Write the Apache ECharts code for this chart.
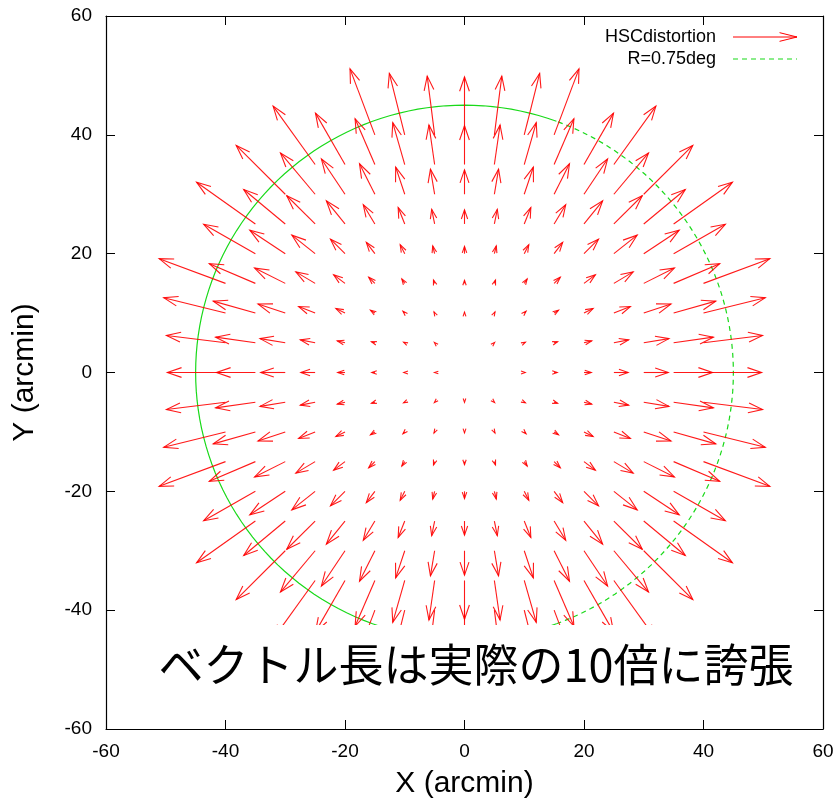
<!DOCTYPE html>
<html><head><meta charset="utf-8">
<script src="https://cdn.jsdelivr.net/npm/echarts@6/dist/echarts.min.js"></script>
<style>html,body{margin:0;padding:0;background:#fff}#c{width:838px;height:799px}</style>
</head><body><div id="c"></div><script>
const _ = null;
// grid positions of the vector tails (arcmin)
const gridX = [-40,-35,-30,-25,-20,-15,-10,-5,0,5,10,15,20,25,30,35,40];
const gridY = [40,35,30,25,20,15,10,5,0,-5,-10,-15,-20,-25,-30,-35,-40];
// vector components (arcmin, already magnified x10), rows follow gridY, columns follow gridX
const dX = [
 [_,_,_,_,_,-4.16,-2.58,-1.24,0,1.24,2.58,4.16,_,_,_,_,_],
 [_,_,_,-7.03,-4.94,-3.31,-2.01,-0.95,0,0.95,2.01,3.31,4.94,7.03,_,_,_],
 [_,_,-8.21,-5.80,-3.95,-2.57,-1.52,-0.70,0,0.70,1.52,2.57,3.95,5.80,8.21,_,_],
 [_,-9.84,-6.95,-4.75,-3.12,-1.94,-1.10,-0.49,0,0.49,1.10,1.94,3.12,4.75,6.95,9.84,_],
 [_,-8.65,-5.93,-3.90,-2.43,-1.43,-0.76,-0.32,0,0.32,0.76,1.43,2.43,3.90,5.93,8.65,_],
 [-11.10,-7.71,-5.13,-3.23,-1.90,-1.03,-0.49,-0.19,0,0.19,0.49,1.03,1.90,3.23,5.13,7.71,11.10],
 [-10.34,-7.05,-4.56,-2.76,-1.52,-0.74,-0.30,-0.10,0,0.10,0.30,0.74,1.52,2.76,4.56,7.05,10.34],
 [-9.88,-6.65,-4.22,-2.47,-1.29,-0.57,-0.19,-0.04,_,0.04,0.19,0.57,1.29,2.47,4.22,6.65,9.88],
 [-9.73,-6.52,-4.10,-2.38,-1.22,-0.51,-0.15,-0.02,_,_,0.15,0.51,1.22,2.38,4.10,6.52,9.73],
 [-9.88,-6.65,-4.22,-2.47,-1.29,-0.57,-0.19,-0.04,0,0.04,0.19,0.57,1.29,2.47,4.22,6.65,9.88],
 [-10.34,-7.05,-4.56,-2.76,-1.52,-0.74,-0.30,-0.10,0,0.10,0.30,0.74,1.52,2.76,4.56,7.05,10.34],
 [-11.10,-7.71,-5.13,-3.23,-1.90,-1.03,-0.49,-0.19,0,0.19,0.49,1.03,1.90,3.23,5.13,7.71,11.10],
 [_,-8.65,-5.93,-3.90,-2.43,-1.43,-0.76,-0.32,0,0.32,0.76,1.43,2.43,3.90,5.93,8.65,_],
 [_,-9.84,-6.95,-4.75,-3.12,-1.94,-1.10,-0.49,0,0.49,1.10,1.94,3.12,4.75,6.95,9.84,_],
 [_,_,-8.21,-5.80,-3.95,-2.57,-1.52,-0.70,0,0.70,1.52,2.57,3.95,5.80,8.21,_,_],
 [_,_,_,-7.03,-4.94,-3.31,-2.01,-0.95,0,0.95,2.01,3.31,4.94,7.03,_,_,_],
 [_,_,_,_,_,-4.16,-2.58,-1.24,0,1.24,2.58,4.16,_,_,_,_,_]
];
const dY = [
 [_,_,_,_,_,11.10,10.34,9.88,9.73,9.88,10.34,11.10,_,_,_,_,_],
 [_,_,_,9.84,8.65,7.71,7.05,6.65,6.52,6.65,7.05,7.71,8.65,9.84,_,_,_],
 [_,_,8.21,6.95,5.93,5.13,4.56,4.22,4.10,4.22,4.56,5.13,5.93,6.95,8.21,_,_],
 [_,7.03,5.80,4.75,3.90,3.23,2.76,2.47,2.38,2.47,2.76,3.23,3.90,4.75,5.80,7.03,_],
 [_,4.94,3.95,3.12,2.43,1.90,1.52,1.29,1.22,1.29,1.52,1.90,2.43,3.12,3.95,4.94,_],
 [4.16,3.31,2.57,1.94,1.43,1.03,0.74,0.57,0.51,0.57,0.74,1.03,1.43,1.94,2.57,3.31,4.16],
 [2.58,2.01,1.52,1.10,0.76,0.49,0.30,0.19,0.15,0.19,0.30,0.49,0.76,1.10,1.52,2.01,2.58],
 [1.24,0.95,0.70,0.49,0.32,0.19,0.10,0.04,_,0.04,0.10,0.19,0.32,0.49,0.70,0.95,1.24],
 [0,0,0,0,0,0,0,0,_,_,0,0,0,0,0,0,0],
 [-1.24,-0.95,-0.70,-0.49,-0.32,-0.19,-0.10,-0.04,-0.02,-0.04,-0.10,-0.19,-0.32,-0.49,-0.70,-0.95,-1.24],
 [-2.58,-2.01,-1.52,-1.10,-0.76,-0.49,-0.30,-0.19,-0.15,-0.19,-0.30,-0.49,-0.76,-1.10,-1.52,-2.01,-2.58],
 [-4.16,-3.31,-2.57,-1.94,-1.43,-1.03,-0.74,-0.57,-0.51,-0.57,-0.74,-1.03,-1.43,-1.94,-2.57,-3.31,-4.16],
 [_,-4.94,-3.95,-3.12,-2.43,-1.90,-1.52,-1.29,-1.22,-1.29,-1.52,-1.90,-2.43,-3.12,-3.95,-4.94,_],
 [_,-7.03,-5.80,-4.75,-3.90,-3.23,-2.76,-2.47,-2.38,-2.47,-2.76,-3.23,-3.90,-4.75,-5.80,-7.03,_],
 [_,_,-8.21,-6.95,-5.93,-5.13,-4.56,-4.22,-4.10,-4.22,-4.56,-5.13,-5.93,-6.95,-8.21,_,_],
 [_,_,_,-9.84,-8.65,-7.71,-7.05,-6.65,-6.52,-6.65,-7.05,-7.71,-8.65,-9.84,_,_,_],
 [_,_,_,_,_,-11.10,-10.34,-9.88,-9.73,-9.88,-10.34,-11.10,_,_,_,_,_]
];
const axisMin = -60, axisMax = 60, axisStep = 20;
const circleRadius = 45; // R = 0.75 deg
const legendNames = ['HSCdistortion', 'R=0.75deg'];
const xName = 'X (arcmin)', yName = 'Y (arcmin)';
const noteText = 'ベクトル長は実際の10倍に誇張';

const RED = '#ff0000', GREEN = '#19d919';
const FONT = '"Liberation Sans", Arial, Helvetica, sans-serif';

const vectors = [];
for (let r = 0; r < gridY.length; r++) {
  for (let c = 0; c < gridX.length; c++) {
    if (dX[r][c] === null || dY[r][c] === null) continue;
    vectors.push([gridX[c], gridY[r], dX[r][c], dY[r][c]]);
  }
}
// circle outline (solid on the left part, dashed on the right part as in the original)
const circSolid = [], circDash = [];
for (let d = 70; d <= 290; d += 2) {
  const a = d * Math.PI / 180;
  circSolid.push([circleRadius * Math.cos(a), circleRadius * Math.sin(a)]);
}
for (let d = -70; d <= 70; d += 2) {
  const a = d * Math.PI / 180;
  circDash.push([circleRadius * Math.cos(a), circleRadius * Math.sin(a)]);
}

function headPoints(tip, ux, uy, h, deg) {
  const a = (deg || 19) * Math.PI / 180, ca = Math.cos(a), sa = Math.sin(a);
  const bx = -ux, by = -uy;
  return [
    [tip[0] + h * (bx * ca - by * sa), tip[1] + h * (bx * sa + by * ca)],
    tip,
    [tip[0] + h * (bx * ca + by * sa), tip[1] + h * (-bx * sa + by * ca)]
  ];
}

const chart = echarts.init(document.getElementById('c'), null, {renderer: 'canvas'});
const axisCommon = {
  type: 'value', min: axisMin, max: axisMax, interval: axisStep,
  splitLine: {show: false},
  axisLine: {show: true, onZero: false, lineStyle: {color: '#000', width: 1.2}},
  axisTick: {show: true, inside: true, length: 9, lineStyle: {color: '#000'}},
};
const option = {
  backgroundColor: '#fff',
  animation: false,
  grid: {left: 106, right: 15, top: 16, bottom: 70, containLabel: false, outerBoundsMode: 'none'},
  xAxis: [
    Object.assign({}, axisCommon, {position: 'bottom', name: xName, nameLocation: 'middle', nameGap: 40,
      nameTextStyle: {fontFamily: FONT, fontSize: 30, color: '#000'},
      axisLabel: {fontFamily: FONT, fontSize: 19, color: '#000', margin: 13}}),
    Object.assign({}, axisCommon, {position: 'top', axisLabel: {show: false}})
  ],
  yAxis: [
    Object.assign({}, axisCommon, {position: 'left', name: yName, nameLocation: 'middle', nameGap: 66,
      nameTextStyle: {fontFamily: FONT, fontSize: 30, color: '#000'},
      axisLabel: {fontFamily: FONT, fontSize: 19, color: '#000', margin: 14}}),
    Object.assign({}, axisCommon, {position: 'right', axisLabel: {show: false}})
  ],
  series: [
    {
      type: 'custom', name: legendNames[0], xAxisIndex: 0, yAxisIndex: 0,
      data: vectors, encode: {x: 0, y: 1}, clip: false, z: 3,
      renderItem: function (params, api) {
        const x = api.value(0), y = api.value(1), dx = api.value(2), dy = api.value(3);
        const p0 = api.coord([x, y]), p1 = api.coord([x + dx, y + dy]);
        const vx = p1[0] - p0[0], vy = p1[1] - p0[1];
        const len = Math.hypot(vx, vy) || 1e-6;
        const ux = vx / len, uy = vy / len;
        const h = Math.min(15, 4 + 0.4 * len);
        return {
          type: 'group', children: [
            {type: 'line', shape: {x1: p0[0], y1: p0[1], x2: p1[0], y2: p1[1]},
             style: {stroke: RED, lineWidth: 1.1, opacity: 0.9}},
            {type: 'polyline', shape: {points: headPoints(p1, ux, uy, h, 19)},
             style: {stroke: RED, fill: null, lineWidth: 1.1, opacity: 0.9}}
          ]
        };
      }
    },
    {
      type: 'line', name: legendNames[1], data: circSolid, showSymbol: false, symbol: 'none',
      lineStyle: {color: GREEN, width: 1.2}, z: 2, silent: true
    },
    {
      type: 'line', name: legendNames[1] + ' ', data: circDash, showSymbol: false, symbol: 'none',
      lineStyle: {color: GREEN, width: 1.2, type: [5, 4]}, z: 2, silent: true
    }
  ],
  graphic: [
    {type: 'text', x: 716, y: 37, z: 50,
     style: {text: legendNames[0], font: '18px ' + FONT, fill: '#000', align: 'right', verticalAlign: 'middle'}},
    {type: 'line', z: 50, shape: {x1: 733, y1: 37, x2: 797, y2: 37}, style: {stroke: RED, lineWidth: 1}},
    {type: 'polyline', z: 50, shape: {points: headPoints([797, 37], 1, 0, 18, 14)}, style: {stroke: RED, fill: null, lineWidth: 1}},
    {type: 'text', x: 716, y: 59, z: 50,
     style: {text: legendNames[1], font: '18px ' + FONT, fill: '#000', align: 'right', verticalAlign: 'middle'}},
    {type: 'line', z: 50, shape: {x1: 733, y1: 59, x2: 797, y2: 59}, style: {stroke: GREEN, lineWidth: 1.2, lineDash: [5, 4]}},
    {type: 'rect', z: 60, shape: {x: 137, y: 625, width: 684, height: 77}, style: {fill: '#fff', stroke: null}},
    {type: 'text', z: 61, x: 476, y: 665,
     style: {text: noteText, font: '45px "Noto Sans CJK JP", sans-serif', fill: '#000', align: 'center', verticalAlign: 'middle'}}
  ]
};
chart.setOption(option);
</script></body></html>
